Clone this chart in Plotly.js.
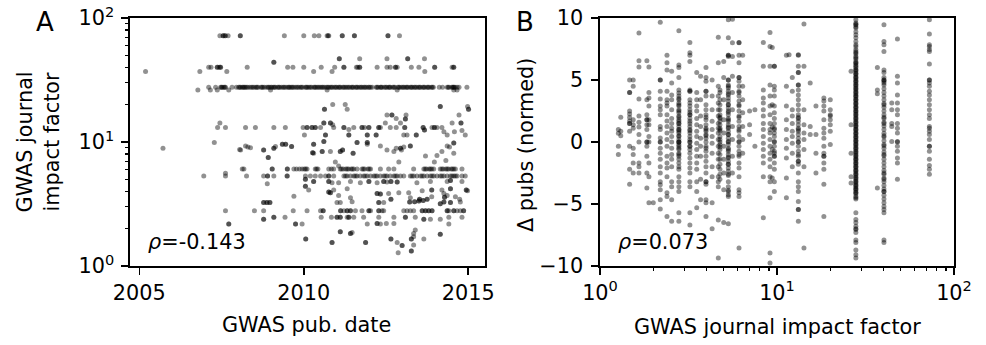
<!DOCTYPE html>
<html>
<head>
<meta charset="utf-8">
<script src="https://cdn.plot.ly/plotly-3.0.1.min.js"></script>
<style>html,body{margin:0;padding:0;background:#fff;}#chart{width:986px;height:345px;}</style>
</head>
<body>
<div id="chart"></div>
<script>
// ---------------- Panel A: GWAS publication date vs journal impact factor ----------------
// Each row = one journal impact factor; values are publication dates (decimal years).
const aDates72 = [2007.45, 2007.55, 2007.55, 2007.60, 2007.62, 2007.70, 2008.07, 2008.07, 2009.41, 2010.00, 2010.32, 2010.46, 2010.71, 2010.74, 2010.76, 2011.17, 2011.17, 2011.54, 2011.54, 2012.56, 2012.56, 2012.91];
const aDates47 = [2011.08, 2011.08, 2011.70, 2012.53, 2013.16, 2013.16, 2013.67];
const aDates40 = [2007.11, 2007.18, 2007.37, 2007.37, 2007.43, 2007.47, 2007.47, 2008.28, 2009.51, 2009.67, 2010.00, 2010.53, 2010.94, 2011.22, 2011.22, 2011.60, 2011.64, 2011.70, 2011.70, 2012.23, 2012.53, 2012.63, 2012.79, 2012.79, 2012.84, 2013.27, 2013.50, 2013.98, 2013.98, 2014.51, 2014.56, 2014.56];
const aDates37 = [2005.19, 2006.84, 2007.66, 2010.30, 2010.86, 2013.68];
const aDates28 = [2007.11, 2007.32, 2007.47, 2007.50, 2007.57, 2007.62, 2007.82, 2007.95, 2008.02, 2008.08, 2008.13, 2008.19, 2008.22, 2008.30, 2008.36, 2008.41, 2008.49, 2008.55, 2008.61, 2008.70, 2008.76, 2008.81, 2008.88, 2008.95, 2009.03, 2009.08, 2009.14, 2009.21, 2009.27, 2009.33, 2009.38, 2009.46, 2009.52, 2009.58, 2009.63, 2009.70, 2009.76, 2009.84, 2009.90, 2009.97, 2010.05, 2010.11, 2010.16, 2010.24, 2010.31, 2010.37, 2010.42, 2010.50, 2010.55, 2010.62, 2010.68, 2010.75, 2010.80, 2010.87, 2010.93, 2011.00, 2011.06, 2011.12, 2011.19, 2011.26, 2011.31, 2011.39, 2011.45, 2011.51, 2011.58, 2011.64, 2011.70, 2011.77, 2011.83, 2011.90, 2011.96, 2012.03, 2012.08, 2012.20, 2012.26, 2012.33, 2012.38, 2012.45, 2012.52, 2012.58, 2012.63, 2012.71, 2012.77, 2012.86, 2012.92, 2012.98, 2013.05, 2013.11, 2013.17, 2013.24, 2013.30, 2013.36, 2013.43, 2013.49, 2013.55, 2013.62, 2013.68, 2013.75, 2013.81, 2013.88, 2013.94, 2014.12, 2014.22, 2014.36, 2014.42, 2014.50, 2014.55, 2014.60, 2014.66, 2014.72, 2014.96,
  2007.52, 2007.60, 2008.05, 2008.16, 2008.26, 2008.45, 2008.58, 2008.73, 2008.92, 2009.00, 2009.11, 2009.24, 2009.41, 2009.55, 2009.66, 2009.80, 2009.93, 2010.08, 2010.20, 2010.34, 2010.46, 2010.58, 2010.72, 2010.84, 2010.97, 2011.09, 2011.22, 2011.35, 2011.48, 2011.61, 2011.74, 2011.86, 2011.99, 2012.23, 2012.35, 2012.49, 2012.61, 2012.74, 2012.89, 2013.02, 2013.14, 2013.27, 2013.39, 2013.52, 2013.65, 2013.78, 2013.91, 2014.39, 2014.53, 2014.57];
const aDates26 = [2006.78, 2007.16, 2007.37, 2007.72, 2008.99, 2010.71, 2012.84, 2014.56, 2014.66];
const aDates13 = [2007.38, 2007.62, 2008.23, 2008.53, 2009.09, 2009.44, 2009.98, 2010.10, 2010.10, 2010.25, 2010.25, 2010.35, 2010.35, 2010.51, 2010.91, 2011.22, 2011.22, 2011.52, 2011.77, 2011.77, 2011.85, 2011.98, 2011.98, 2012.28, 2012.28, 2012.33, 2012.63, 2012.81, 2013.07, 2013.07, 2013.63, 2013.63, 2013.90, 2013.97, 2013.97, 2014.05, 2014.20];
const aDates11 = [2010.02, 2010.66, 2010.66, 2011.37, 2011.37, 2011.93, 2011.93, 2012.20, 2012.20, 2013.04, 2013.14, 2013.42, 2013.42, 2014.36, 2014.91];
const aDates6 = [2008.13, 2008.18, 2009.04, 2009.04, 2009.50, 2009.50, 2009.70, 2009.78, 2009.87, 2009.95, 2010.02, 2010.10, 2010.35, 2010.43, 2010.76, 2010.84, 2010.91, 2011.11, 2011.20, 2011.28, 2011.36, 2011.44, 2011.52, 2011.62, 2011.77, 2011.85, 2011.95, 2012.03, 2012.33, 2012.58, 2012.74, 2013.34, 2013.65, 2013.73, 2013.81, 2013.89, 2013.95, 2014.15, 2014.24, 2014.32, 2014.40, 2014.48, 2014.56, 2014.61, 2014.81,
  2010.06, 2010.39, 2011.15, 2011.32, 2011.48, 2011.81, 2011.99, 2013.69, 2013.85, 2014.20, 2014.36, 2014.52];
const aDates5 = [2006.96, 2007.62, 2008.26, 2008.78, 2008.90, 2008.90, 2009.09, 2009.49, 2009.50, 2010.05, 2010.20, 2010.35, 2010.51, 2010.66, 2010.76, 2010.76, 2010.91, 2011.22, 2011.32, 2011.42, 2011.52, 2011.62, 2011.72, 2011.82, 2011.93, 2012.03, 2012.13, 2012.23, 2012.33, 2012.43, 2012.53, 2012.63, 2012.74, 2012.84, 2012.94, 2013.04, 2013.24, 2013.34, 2013.44, 2013.55, 2013.65, 2013.75, 2013.85, 2013.95, 2014.05, 2014.15, 2014.26, 2014.36, 2014.46, 2014.56, 2014.66, 2014.81, 2014.91,
  2011.27, 2011.57, 2011.87, 2012.18, 2012.48, 2012.79, 2013.29, 2013.60, 2013.90, 2014.20, 2014.51, 2014.61];
const aDates2_8 = [2007.62, 2008.50, 2008.78, 2009.68, 2010.10, 2010.51, 2010.59, 2010.59, 2011.12, 2011.12, 2011.22, 2011.32, 2011.32, 2011.42, 2011.42, 2011.57, 2011.77, 2011.98, 2011.98, 2012.03, 2012.28, 2012.28, 2012.38, 2012.43, 2013.04, 2013.14, 2013.24, 2013.34, 2013.60, 2013.60, 2013.70, 2013.70, 2013.80, 2013.80, 2013.90, 2013.90, 2014.36, 2014.36, 2014.41, 2014.56, 2014.56, 2014.66, 2014.76, 2014.86, 2014.86];
const aDates2_5 = [2009.09, 2009.09, 2009.43, 2010.53, 2010.84, 2011.01, 2011.01, 2011.11, 2011.11, 2011.32, 2011.37, 2011.37, 2011.52, 2011.82, 2012.28, 2012.74, 2013.09, 2013.09, 2013.39, 2014.41, 2014.81];
// scattered papers (date, impact factor)
const aOtherDate = [2009.09, 2009.09, 2010.88, 2011.26, 2011.32, 2010.63, 2010.63, 2014.15, 2014.15, 2014.98, 2015.01, 2015.01,
  2012.53, 2012.68, 2012.68, 2013.11, 2014.72, 2013.09, 2013.09, 2012.81,
  2007.45, 2010.61, 2010.61, 2010.81, 2010.81, 2012.48, 2012.94, 2014.51, 2014.78, 2014.78,
  2011.37, 2013.67, 2013.67, 2014.26, 2014.58, 2014.81, 2010.88,
  2007.28, 2008.23, 2008.30, 2009.09, 2009.09, 2009.14, 2009.35, 2009.35, 2009.45, 2009.45, 2009.63, 2009.63, 2010.30, 2010.30, 2010.61, 2010.61, 2011.62, 2011.62, 2011.93, 2011.93, 2011.93, 2012.33, 2012.81, 2012.94, 2012.94, 2013.04, 2013.24, 2013.24, 2014.36, 2014.43, 2014.56, 2014.56, 2005.72, 2008.05, 2008.08, 2008.38,
  2008.78, 2008.78, 2008.92, 2008.92, 2010.27, 2010.27, 2010.30, 2010.56, 2010.56, 2010.81, 2011.11, 2011.11, 2011.18, 2011.18, 2011.50, 2011.50, 2012.53, 2012.74, 2012.97, 2013.70, 2014.05, 2014.20, 2014.56,
  2010.96, 2011.06, 2012.89, 2013.97, 2014.32, 2007.62,
  2008.89, 2010.05, 2010.05, 2010.30, 2010.30, 2010.76, 2010.76, 2010.86, 2011.06, 2011.42, 2011.72, 2011.98, 2011.98, 2012.23, 2012.43, 2012.43, 2012.53, 2012.65, 2012.65, 2012.84, 2012.84, 2013.44, 2013.85, 2014.36, 2014.46, 2014.46, 2014.81,
  2010.05, 2010.05, 2010.15, 2010.76, 2010.76, 2010.81, 2010.81, 2010.91, 2011.32, 2012.23, 2012.23, 2012.33, 2012.33, 2012.58, 2012.89, 2013.19, 2013.60, 2013.89, 2013.89, 2014.20, 2014.26, 2014.46, 2014.46, 2014.94, 2014.94, 2014.98,
  2009.70, 2011.06, 2011.42, 2012.65, 2012.65, 2013.24, 2013.52, 2013.52, 2013.75, 2013.75, 2013.89, 2014.28, 2014.28, 2014.36, 2014.61, 2014.74,
  2008.78, 2008.78, 2008.88, 2008.88, 2008.97, 2008.97, 2011.01, 2011.11, 2011.47, 2012.28, 2012.28, 2012.43, 2013.22, 2013.22, 2013.37, 2013.37, 2013.50, 2013.50, 2013.63, 2013.63, 2014.15, 2014.15, 2014.26, 2014.26, 2014.46, 2014.46, 2014.76,
  2008.78, 2008.78, 2013.65, 2013.65, 2013.85, 2014.15,
  2007.72, 2007.72, 2009.75, 2009.75, 2009.95, 2011.93, 2012.23, 2012.23, 2012.33, 2012.51, 2012.74, 2014.41,
  2011.11, 2011.11, 2011.42, 2011.42, 2011.47, 2013.39, 2013.34, 2014.15, 2014.15,
  2010.06, 2010.06, 2012.65, 2012.65, 2013.27, 2013.27, 2013.65, 2013.34,
  2010.86, 2010.86, 2011.88, 2011.88, 2012.84, 2012.99, 2012.99, 2013.34, 2012.87, 2013.27, 2013.27];
const aOtherIF = [44, 44, 20.1, 20.1, 18.4, 18.4, 18.4, 19.3, 19.3, 19.3, 18.4, 18.4,
  16.5, 16.5, 16.5, 16.5, 16.5, 15.3, 15.3, 15.5,
  14.2, 14.2, 14.2, 14.2, 14.2, 14.2, 14.2, 14.2, 14.2, 14.2,
  12.6, 12.5, 12.5, 12.1, 12.1, 12.4, 13.8,
  9.9, 9.3, 9.1, 8.9, 8.9, 9.2, 9.6, 9.6, 9.6, 9.6, 9.2, 9.2, 9.6, 9.6, 10.1, 10.1, 9.9, 9.9, 9.9, 9.9, 9.6, 9.3, 8.9, 8.9, 8.9, 9.1, 9.3, 9.3, 9.3, 9.1, 9.8, 9.8, 8.9, 8.7, 8.6, 9.0,
  8.6, 8.6, 7.5, 7.5, 8.2, 8.2, 8.1, 8.4, 8.4, 8.4, 8.4, 8.4, 8.6, 8.6, 8.1, 8.1, 8.6, 8.4, 8.6, 7.7, 7.8, 8.4, 8.1,
  6.9, 6.4, 6.9, 6.9, 7.1, 5.6,
  4.6, 5.0, 5.0, 4.8, 4.8, 4.8, 4.8, 4.7, 4.7, 4.8, 4.7, 4.8, 4.8, 4.7, 4.8, 4.8, 4.75, 4.8, 4.8, 4.75, 4.75, 4.7, 4.8, 4.8, 4.9, 4.9, 4.8,
  4.4, 4.4, 4.1, 3.95, 3.95, 3.9, 3.9, 4.1, 4.2, 3.85, 3.85, 3.8, 3.8, 3.85, 3.9, 3.9, 4.05, 4.1, 4.1, 4.1, 3.85, 4.2, 4.2, 4.1, 4.1, 4.05,
  3.65, 3.7, 3.55, 3.45, 3.45, 3.55, 3.45, 3.45, 3.45, 3.45, 3.62, 3.58, 3.58, 3.7, 3.62, 3.45,
  3.25, 3.25, 3.25, 3.25, 3.25, 3.25, 3.25, 3.25, 3.3, 3.25, 3.25, 3.25, 3.28, 3.28, 3.3, 3.3, 3.35, 3.35, 3.38, 3.38, 3.18, 3.18, 3.28, 3.28, 3.25, 3.25, 3.28,
  2.38, 2.38, 2.38, 2.38, 2.38, 2.38,
  2.18, 2.18, 2.18, 2.18, 2.18, 2.18, 2.2, 2.2, 2.18, 2.2, 2.2, 2.18,
  1.89, 1.89, 1.83, 1.83, 1.86, 1.95, 1.83, 1.8, 1.8,
  1.65, 1.65, 1.65, 1.65, 1.65, 1.65, 1.65, 1.72,
  1.55, 1.55, 1.55, 1.55, 1.55, 1.46, 1.46, 1.48, 1.28, 1.32, 1.32];

// ---------------- Panel B: journal impact factor vs change in publications ----------------
const b1_27 = [1.0, 0.7, -0.35, -1.0];
const b1_31 = [2.0, 0.86, 0.5];
const b1_47 = [5.0, 4.0, 4.0, 2.5, 2.25, 1.98, 1.7, 1.5, 1.5, 0.86, -0.35, -2.2, -3.4];
const b1_54 = [5.0, 4.5, 1.8, 1.4, 1.1, -0.5, -1.0, -1.7, -2.5];
const b1_66 = [8.8, 6.56, 6.05, 3.47, 2.1, 1.6, 1.2, 0.6, 0.0, -1.7, -2.0, -2.5];
const b1_84 = [6.56, 3.4, 2.2, 1.8, 1.8, 1.4, 1.0, 0.0, 0.0, -0.35, -1.15, -2.5, -3.7];
const b1_89 = [6.05, 4.0, 3.55, 2.9, 1.8, 1.4, 0.45, 0.0, -1.7, -2.8, -4.9];
const b2_0 = [-4.9];
const b2_19 = [9.65, 5.0, 5.0, 4.1, 3.47, 2.9, 2.6, 2.2, 1.26, 1.0, 0.32, 0.0, 0.0, -0.5, -0.9, -1.4, -2.0, -2.5, -3.2, -3.44, -3.85, -4.65, -5.4];
const b2_39 = [7.0, 6.4, 5.8, 4.1, 3.4, 3.15, 2.9, 2.2, 1.7, 1.26, 0.73, 0.2, -0.35, -1.15, -1.7, -2.1, -2.8, -4.1, -4.4, -6.0];
const b2_54 = [5.7, 4.75, 3.8, 3.4, 2.6, 1.9, 1.5, 1.1, 0.86, 0.45, 0.0, -0.5, -1.0, -1.4, -2.0, -3.2, -3.6, -4.65, -6.4];
const b2_79 = [8.98, 6.2, 6.0, 5.2, 4.2, 3.95, 3.7, 3.4, 3.15, 2.9, 2.6, 2.35, 2.1, 1.8, 1.67, 1.5, 1.26, 1.0, 0.86, 0.73, 0.45, 0.2, 0.0, 0.0, -0.2, -0.35, -0.6, -0.9, -1.15, -1.4, -1.7, -2.0, -2.2, -2.8, -3.2, -3.6, -4.0, -5.7, -6.4, 3.0, 2.0, 1.0, 0.0, -1.0, 0.5, 1.5, 2.5, -0.5, 3.5];
const b3_22 = [8.03, 7.2, 7.0, 6.5, 4.2, 4.1, 4.1, 3.4, 3.15, 2.9, 2.6, 2.2, 2.2, 1.9, 1.67, 1.26, 1.0, 0.73, 0.45, 0.2, 0.0, 0.0, -0.35, -0.35, -0.6, -0.9, -1.3, -1.7, -2.1, -2.5, -3.2, -3.6, -5.7, -6.7, 1.5, 0.9, 2.4];
const b3_52 = [5.6, 4.0, 3.4, 2.9, 2.5, 1.9, 1.4, 0.86, 0.45, -0.1, -0.6, -1.15, -1.7, -2.2, -3.2, -4.0, -5.3];
const b3_7 = [5.3, 3.4, 2.1, 1.26, 0.3, -0.35, -1.15, -3.0, -4.65];
const b3_97 = [6.0, 5.2, 4.9, 4.1, 4.1, 3.7, 3.0, 2.6, 2.2, 1.8, 1.4, 1.1, 0.86, 0.6, 0.3, 0.0, -0.35, -0.75, -1.15, -1.55, -2.0, -2.5, -3.2, -3.2, -3.4, -4.65, -4.9, -6.0, 1.0, 0.5, -0.5, 2.0];
const b4_3 = [5.0, 3.7, 2.6, 1.67, 1.0, 0.45, -0.1, -0.9, -2.0, -2.8, -4.9, -7.0];
const b4_66 = [8.44, 6.4, 4.5, 3.7, 3.15, 2.6, 2.1, 1.5, 1.1, 0.73, 0.2, -0.35, -0.9, -1.4, -2.0, -2.8, -3.2, -3.6, -6.3, -9.35];
const b4_76 = [4.2, 4.0, 3.4, 3.0, 2.6, 2.2, 1.9, 1.67, 1.4, 1.1, 0.86, 0.45, 0.2, -0.2, -0.6, -1.0, -1.4, -1.8, -2.2, -2.6, -3.0, 1.0, 0.0, 2.0, -0.4];
const b5_0 = [6.5, 5.2, 3.4, 1.8, 0.73, -0.35, -1.4, -2.5, -3.85, -6.5];
const b5_31 = [9.86, 8.4, 7.0, 7.0, 6.9, 5.0, 5.0, 4.6, 4.35, 4.1, 3.8, 3.55, 3.3, 3.0, 2.75, 2.5, 2.2, 1.9, 1.67, 1.4, 1.1, 0.86, 0.6, 0.3, 0.05, -0.2, -0.5, -0.75, -1.0, -1.3, -1.55, -1.8, -2.1, -2.35, -2.6, -3.2, -3.6, -4.0, -4.25, -4.4, 4.5, 3.9, 3.0, 2.4, 1.8, 1.2, 0.6, 0.0, -0.6, -1.2, -1.8, -2.7, -3.9, -6.6];
const b5_6 = [9.9, 8.0, 6.9, 5.3, 4.0, 2.6, 1.26, 0.2, -1.15, -2.5];
const b6_1 = [8.03, 8.0, 7.0, 6.4, 5.2, 5.2, 4.9, 4.5, 4.1, 3.7, 3.3, 2.9, 2.5, 2.1, 1.67, 1.26, 0.86, 0.45, 0.05, -0.35, -0.75, -1.15, -1.7, -2.1, -2.8, -3.85, -4.1, -4.4, -8.55, 1.0, 0.0, 2.0, 3.0, -1.0, 4.0];
const b6_4 = [7.0, 4.5, 3.4, 2.35, 1.26, 0.2, -0.9];
const b7_0 = [2.5, 1.4, 0.6];
const b7_5 = [2.6, -0.35];
const b8_37 = [8.03, 6.1, 4.2, 3.55, 3.15, 2.6, 2.1, 1.5, 1.0, 0.45, -0.1, -0.6, -1.15, -1.7, -2.8, -6.1];
const b9_13 = [8.84, 7.7, 6.1, 4.6, 3.7, 2.9, 2.2, 1.5, 1.0, 0.73, 0.2, -0.35, -0.9, -1.4, -2.0, -2.8, -3.2, -4.5, -8.95, -9.75];
const b9_4 = [7.63, 3.0, 1.2, -0.6, -2.9];
const b9_66 = [6.1, 6.1, 4.5, 4.2, 3.7, 2.9, 2.35, 1.9, 1.5, 1.1, 0.73, 0.45, 0.05, -0.35, -0.75, -1.15, -1.15, -1.7, -2.2, -3.2, -4.0, 1.0, 0.0, -0.9];
const b11_3 = [7.0, 4.5, 2.9, 1.8, 1.0, 0.2, -0.5, -1.3, -2.9, -4.5];
const b11_7 = [7.04];
const b12_2 = [5.2, 4.1, 2.6, 2.1, 1.5, 0.86, 0.45, -0.1, -0.9, -2.0];
const b13_2 = [7.04, 7.0, 6.1, 5.6, 5.6, 4.6, 4.6, 4.2, 3.8, 3.4, 3.0, 2.6, 2.2, 1.9, 1.67, 1.4, 1.1, 0.86, 0.6, 0.3, 0.0, -0.35, -0.75, -1.15, -1.55, -1.55, -1.8, -2.5, -3.2, -3.6, -4.0, -4.8, -5.45, -5.45, -6.4, 1.0, 0.0, 2.0, -1.0];
const b14_2 = [9.51, 6.1, 2.6, 1.4, 0.73, 0.2, -0.6, -2.0, -8.55];
const b15_4 = [4.75, 1.26, 0.6];
const b16_6 = [2.9, 0.6, -0.9, -2.5];
const b18_4 = [3.55, 3.3, 2.9, 2.5, 1.8, 1.1, 0.73, 0.3, -0.35, -0.9, -1.15, -1.15, -1.7, -2.2, -3.4, -6.0];
const b20_0 = [3.4, 2.6, 2.2, 2.1, 1.8, 1.4, 0.86, -0.2];
const b26_2 = [5.7, 1.4, -0.9, -2.8, -3.3];
const b27_9 = [9.86, 9.6, 9.45, 9.2, 8.9, 8.65, 8.4, 8.1, 7.85, 7.7, 7.45, 7.3, 7.1, 6.9, 6.7, 6.5, 6.35, 6.2, 6.0, 5.85, 5.7, 5.55, 5.4, 5.25, 5.1, 4.95, 4.8, 4.65, 4.5, 4.35, 4.2, 4.05, 3.9, 3.75, 3.6, 3.45, 3.3, 3.15, 3.0, 2.85, 2.7, 2.55, 2.4, 2.25, 2.1, 1.95, 1.8, 1.65, 1.5, 1.35, 1.2, 1.05, 0.9, 0.75, 0.6, 0.45, 0.3, 0.15, 0.0, -0.15, -0.3, -0.45, -0.6, -0.75, -0.9, -1.05, -1.2, -1.35, -1.5, -1.65, -1.8, -1.95, -2.1, -2.25, -2.4, -2.55, -2.7, -2.85, -3.0, -3.15, -3.3, -3.45, -3.6, -3.75, -3.9, -4.05, -4.2, -4.4, -4.6, -5.7, -6.25, -6.5, -6.8, -7.05, -7.3, -7.9, -8.1, -8.7, -9.1, -9.35,
  9.5, 9.3, 7.2, 6.8, 6.4, 6.1, 5.8, 5.5, 5.2, 4.9, 4.6, 4.3, 4.0, 3.7, 3.4, 3.1, 2.8, 2.5, 2.2, 1.9, 1.6, 1.3, 1.0, 0.7, 0.4, 0.1, -0.2, -0.5, -0.8, -1.1, -1.4, -1.7, -2.0, -2.3, -2.6, -2.9, -3.2, -3.5, -3.8, -4.1, -4.5, -7.0];
const b36_9 = [6.0, 4.2, 3.9, -3.7];
const b40_2 = [9.46, 8.1, 7.85, 7.3, 5.8, 5.6, 5.2, 5.0, 5.0, 4.9, 4.6, 4.3, 4.0, 3.7, 3.4, 3.1, 2.8, 2.5, 2.2, 1.9, 1.6, 1.3, 1.0, 0.7, 0.4, 0.1, -0.2, -0.5, -0.8, -1.1, -1.4, -1.7, -2.0, -2.3, -2.6, -2.9, -3.2, -3.5, -3.8, -4.0, -4.0, -4.3, -4.6, -4.9, -5.2, -5.45, -5.7, -7.9, -8.1, 4.75, 3.0, 2.0, 1.5, 0.5, -0.3, -1.0, -2.5, -3.0];
const b44_5 = [3.15, 2.6, 1.5, 1.26, 0.05];
const b47_9 = [8.3, 5.3, 4.75, 3.8, 3.15, 2.6, 2.2, 1.5, 1.1, 0.73, 0.05, 0.0, -0.35, -0.75, -1.3, -1.7, -3.0];
const b72_6 = [9.86, 8.7, 7.85, 7.7, 7.45, 7.3, 6.29, 5.0, 5.0, 4.75, 4.5, 4.1, 3.8, 3.4, 3.0, 2.6, 2.2, 1.9, 1.26, 1.1, 0.86, 0.6, 0.2, -0.35, -0.35, -0.75, -1.4, -1.9, -2.2, -2.6];

const bImpact = [1.27, 1.31, 1.47, 1.54, 1.66, 1.84, 1.89, 2.0, 2.19, 2.39, 2.54, 2.79, 3.22, 3.52, 3.7, 3.97, 4.3, 4.66, 4.76, 5.0, 5.31, 5.6, 6.1, 6.4, 7.0, 7.5, 8.37, 9.13, 9.4, 9.66, 11.3, 11.7, 12.2, 13.2, 14.2, 15.4, 16.6, 18.4, 20.0, 26.2, 27.9, 36.9, 40.2, 44.5, 47.9, 72.6];
const bDeltas = [b1_27, b1_31, b1_47, b1_54, b1_66, b1_84, b1_89, b2_0, b2_19, b2_39, b2_54, b2_79, b3_22, b3_52, b3_7, b3_97, b4_3, b4_66, b4_76, b5_0, b5_31, b5_6, b6_1, b6_4, b7_0, b7_5, b8_37, b9_13, b9_4, b9_66, b11_3, b11_7, b12_2, b13_2, b14_2, b15_4, b16_6, b18_4, b20_0, b26_2, b27_9, b36_9, b40_2, b44_5, b47_9, b72_6];

const rhoA = '-0.143';
const rhoB = '0.073';
// log-axis tick positions
const logMajor = [1, 10, 100];
const logMajorText = ['10<sup>0</sup>', '10<sup>1</sup>', '10<sup>2</sup>'];
const logMinor = [2, 3, 4, 5, 6, 7, 8, 9, 20, 30, 40, 50, 60, 70, 80, 90];

// ---------------- build traces ----------------
const aRows = [[72, aDates72], [47, aDates47], [40, aDates40], [37, aDates37], [27.6, aDates28], [26.3, aDates26], [13.1, aDates13], [11.4, aDates11], [6.05, aDates6], [5.32, aDates5], [2.79, aDates2_8], [2.47, aDates2_5]];
const ax = [], ay = [];
aRows.forEach(([f, ds]) => ds.forEach(d => { ax.push(d); ay.push(f); }));
aOtherDate.forEach((d, i) => { ax.push(d); ay.push(aOtherIF[i]); });

const bx = [], by = [];
bImpact.forEach((f, i) => bDeltas[i].forEach(v => { bx.push(f); by.push(v); }));

const mk = {size: 5, color: '#000', opacity: 0.43, line: {width: 0}};
const traces = [
  {type: 'scatter', mode: 'markers', x: ax, y: ay, xaxis: 'x', yaxis: 'y', marker: mk, hoverinfo: 'skip'},
  {type: 'scatter', mode: 'markers', x: bx, y: by, xaxis: 'x2', yaxis: 'y2', marker: mk, hoverinfo: 'skip'},
  // empty traces so the minor-tick overlay axes get drawn
  {type: 'scatter', mode: 'markers', x: [], y: [], xaxis: 'x', yaxis: 'y3', hoverinfo: 'skip'},
  {type: 'scatter', mode: 'markers', x: [], y: [], xaxis: 'x3', yaxis: 'y2', hoverinfo: 'skip'}
];

const W = 986, H = 345, T = 18, B = 79;
const FONT = 'DejaVu Sans, Verdana, sans-serif';
const FS = 20.8;
const axCommon = {
  showline: true, linecolor: '#000', linewidth: 1.6, mirror: true,
  ticks: 'outside', ticklen: 7, tickwidth: 1.6, tickcolor: '#000',
  showgrid: false, zeroline: false,
  tickfont: {family: FONT, size: FS, color: '#000'}
};
const minorAxis = {
  type: 'log', range: [0, 2], tickmode: 'array', tickvals: logMinor,
  ticks: 'outside', ticklen: 4.2, tickwidth: 1.25, tickcolor: '#000',
  showticklabels: false, showline: false, showgrid: false, zeroline: false
};
const pyToPaper = py => (H - B - py) / (H - T - B);

const layout = {
  width: W, height: H,
  margin: {l: 0, r: 0, t: T, b: B, pad: 0},
  paper_bgcolor: '#fff', plot_bgcolor: '#fff',
  showlegend: false,
  font: {family: FONT, size: FS, color: '#000'},
  xaxis: Object.assign({}, axCommon, {
    domain: [130 / W, 485 / W], anchor: 'y', range: [2004.717, 2015.51],
    tickmode: 'array', tickvals: [2005, 2010, 2015], ticktext: ['2005', '2010', '2015'],
    ticklabelstandoff: 0
  }),
  yaxis: Object.assign({}, axCommon, {
    domain: [0, 1], anchor: 'x', type: 'log', range: [0, 2],
    tickmode: 'array', tickvals: logMajor, ticktext: logMajorText,
    ticklabelstandoff: 3
  }),
  yaxis3: Object.assign({}, minorAxis, {overlaying: 'y', anchor: 'x', side: 'left'}),
  xaxis2: Object.assign({}, axCommon, {
    domain: [600 / W, 954 / W], anchor: 'y2', type: 'log', range: [0, 2],
    tickmode: 'array', tickvals: logMajor, ticktext: logMajorText,
    ticklabelstandoff: 0
  }),
  xaxis3: Object.assign({}, minorAxis, {overlaying: 'x2', anchor: 'y2', side: 'bottom'}),
  yaxis2: Object.assign({}, axCommon, {
    domain: [0, 1], anchor: 'x2', range: [-10, 10],
    tickmode: 'array', tickvals: [-10, -5, 0, 5, 10], ticktext: ['\u221210', '\u22125', '0', '5', '10'],
    ticklabelstandoff: 4
  }),
  annotations: [
    {text: 'A', xref: 'paper', yref: 'paper', x: 45 / W, y: pyToPaper(22), xanchor: 'center', yanchor: 'middle', showarrow: false, font: {family: FONT, size: 26, color: '#000'}},
    {text: 'B', xref: 'paper', yref: 'paper', x: 525 / W, y: pyToPaper(22), xanchor: 'center', yanchor: 'middle', showarrow: false, font: {family: FONT, size: 26, color: '#000'}},
    {text: '<i>\u03c1</i>=' + rhoA, xref: 'paper', yref: 'paper', x: 146 / W, y: pyToPaper(242), xanchor: 'left', yanchor: 'middle', showarrow: false, font: {family: FONT, size: FS, color: '#000'}},
    {text: '<i>\u03c1</i>=' + rhoB, xref: 'paper', yref: 'paper', x: 616 / W, y: pyToPaper(242), xanchor: 'left', yanchor: 'middle', showarrow: false, font: {family: FONT, size: FS, color: '#000'}},
    {text: 'GWAS journal<br>impact factor', xref: 'paper', yref: 'paper', x: 37.5 / W, y: pyToPaper(142), xanchor: 'center', yanchor: 'middle', textangle: -90, showarrow: false, font: {family: FONT, size: FS, color: '#000'}},
    {text: '\u0394 pubs (normed)', xref: 'paper', yref: 'paper', x: 526 / W, y: pyToPaper(145), xanchor: 'center', yanchor: 'middle', textangle: -90, showarrow: false, font: {family: FONT, size: FS, color: '#000'}},
    {text: 'GWAS pub. date', xref: 'paper', yref: 'paper', x: 306.7 / W, y: pyToPaper(325), xanchor: 'center', yanchor: 'middle', showarrow: false, font: {family: FONT, size: FS, color: '#000'}},
    {text: 'GWAS journal impact factor', xref: 'paper', yref: 'paper', x: 777.5 / W, y: pyToPaper(327), xanchor: 'center', yanchor: 'middle', showarrow: false, font: {family: FONT, size: FS, color: '#000'}}
  ]
};

Plotly.newPlot('chart', traces, layout, {staticPlot: true, displayModeBar: false});
</script>
</body>
</html>
